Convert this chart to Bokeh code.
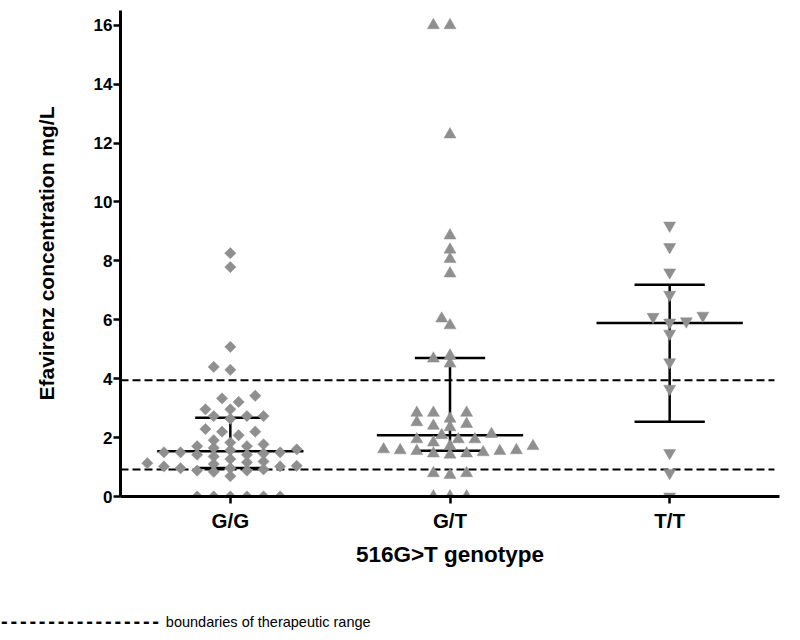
from bokeh.plotting import figure
from bokeh.models import Range1d, FixedTicker, Div, Title
from bokeh.layouts import column
from bokeh.embed import file_html
from bokeh.resources import INLINE
import math

# ---------------- data ----------------
categories = ["G/G", "G/T", "T/T"]
cat_pos = [1, 2, 3]

gg_values = [0, 0, 0, 0, 0, 0,
             0.69, 0.84, 0.88, 0.88, 0.92, 0.96, 0.96, 1.02, 1.02, 1.04,
             1.10, 1.13, 1.16, 1.19, 1.27, 1.36,
             1.42, 1.42, 1.46, 1.50, 1.50, 1.50, 1.57, 1.60, 1.65,
             1.71, 1.71, 1.77, 1.83, 1.91,
             2.08, 2.20, 2.20, 2.29,
             2.64, 2.73, 2.73, 2.73, 2.96, 2.96,
             3.21, 3.33, 3.42,
             4.30, 4.40, 5.08, 7.79, 8.26]

gt_values = [0, 0, 0,
             0.73, 0.79, 0.79,
             1.42, 1.46, 1.46, 1.50, 1.54, 1.54, 1.57, 1.57, 1.60,
             1.71, 1.71, 1.83, 1.94, 1.94, 1.94, 2.08, 2.12,
             2.35, 2.40, 2.46, 2.52, 2.64, 2.84, 2.84, 2.84,
             4.51, 4.68, 4.78, 5.81, 6.04,
             7.57, 8.06, 8.38, 8.86, 12.29, 16.0, 16.0]

tt_values = [0, 0.80, 1.48, 3.66, 4.56, 5.53, 5.91, 5.95, 6.10, 6.14, 6.85, 7.61, 8.47, 9.20]

medians = [1.54, 2.08, 5.89]
q1 = [0.97, 1.55, 2.54]
q3 = [2.67, 4.70, 7.19]

therapeutic_range = [0.92, 3.95]
y_ticks = [0, 2, 4, 6, 8, 10, 12, 14, 16]

x_title = "516G>T genotype"
y_title = "Efavirenz concentration mg/L"
note_dashes = "-----------------"
note_text = "boundaries of therapeutic range"

# ---------------- geometry ----------------
W, H = 784, 606
BL, BR, BT, BB = 120, 5, 10, 110
x_lo, x_hi = 0.5, 3.5
y_lo, y_hi = 0.0, 16.5
px_per_x = (W - BL - BR) / (x_hi - x_lo)
px_per_y = (H - BT - BB) / (y_hi - y_lo)

GREY = "#8f8f8f"
FONT = "Liberation Sans"


def swarm(vals, center, step_px=16.6, dy_px=7.5):
    """Simple beeswarm: place points (ascending) at the smallest free offset."""
    order = sorted(range(len(vals)), key=lambda i: vals[i])
    placed = []
    xs = [0.0] * len(vals)
    half = step_px / 2.0
    for i in order:
        ypx = vals[i] * px_per_y
        chosen = None
        for k in range(0, 40):
            if k == 0:
                cands = [0.0]
            else:
                s = sum(pp[0] for pp in placed)
                cands = [-k * half, k * half] if s > 0 else [k * half, -k * half]
            for c in cands:
                ok = True
                for (px, py) in placed:
                    if ((c - px) / step_px) ** 2 + ((ypx - py) / dy_px) ** 2 < 0.999:
                        ok = False
                        break
                if ok:
                    chosen = c
                    break
            if chosen is not None:
                break
        placed.append((chosen, ypx))
        xs[i] = center + chosen / px_per_x
    return xs


p = figure(width=W, height=H, output_backend="svg", toolbar_location=None,
           x_range=Range1d(x_lo, x_hi), y_range=Range1d(y_lo, y_hi),
           min_border_left=BL, min_border_right=BR, min_border_top=BT, min_border_bottom=BB)
p.outline_line_color = None
p.xgrid.grid_line_color = None
p.ygrid.grid_line_color = None
p.background_fill_color = "white"
p.border_fill_color = "white"

# therapeutic range dashed lines
p.segment(x0=[x_lo] * 2, x1=[x_lo + 2.977] * 2, y0=therapeutic_range, y1=therapeutic_range,
          line_color="black", line_width=2, line_dash="8 4")

# median + IQR
cap_w, med_w = 0.16, 0.333
p.segment(x0=cat_pos, x1=cat_pos, y0=q1, y1=q3, line_color="black", line_width=2.5)
p.segment(x0=[c - med_w for c in cat_pos], x1=[c + med_w for c in cat_pos], y0=medians, y1=medians,
          line_color="black", line_width=2.5)
p.segment(x0=[c - cap_w for c in cat_pos], x1=[c + cap_w for c in cat_pos], y0=q1, y1=q1,
          line_color="black", line_width=2.5)
p.segment(x0=[c - cap_w for c in cat_pos], x1=[c + cap_w for c in cat_pos], y0=q3, y1=q3,
          line_color="black", line_width=2.5)

# points
p.scatter(swarm(gg_values, cat_pos[0]), gg_values, marker="square", size=8, angle=math.pi / 4,
          fill_color=GREY, line_color=GREY, line_width=0.5)
p.scatter(swarm(gt_values, cat_pos[1]), gt_values, marker="triangle", size=12,
          fill_color=GREY, line_color=GREY, line_width=0.5)
p.scatter(swarm(tt_values, cat_pos[2]), tt_values, marker="inverted_triangle", size=12,
          fill_color=GREY, line_color=GREY, line_width=0.5)

# axes
for ax in (p.xaxis[0], p.yaxis[0]):
    ax.axis_line_width = 3
    ax.axis_line_color = "black"
    ax.major_tick_line_width = 2.5
    ax.major_tick_line_color = "black"
    ax.major_tick_out = 7
    ax.major_tick_in = 0
    ax.minor_tick_line_color = None
    ax.major_label_text_font = FONT
    ax.major_label_text_font_style = "bold"
    ax.major_label_text_color = "black"
    ax.axis_label_text_font = FONT
    ax.axis_label_text_font_style = "bold"
    ax.axis_label_text_color = "black"

p.xaxis.ticker = FixedTicker(ticks=cat_pos)
p.xaxis.major_label_overrides = {c: n for c, n in zip(cat_pos, categories)}
p.xaxis.axis_label = x_title
p.xaxis.major_label_text_font_size = "20.5px"
p.xaxis.axis_label_text_font_size = "22.5px"
p.xaxis.major_label_standoff = 5
p.xaxis.axis_label_standoff = 7

p.yaxis.ticker = FixedTicker(ticks=y_ticks)
p.yaxis.major_label_text_font_size = "17px"
p.yaxis.major_label_standoff = 1

# y-axis title as a left-side title (shifted a little upwards, as in the reference)
ytitle = Title(text=y_title, align="center", offset=17, standoff=65,
               text_font=FONT, text_font_style="bold", text_font_size="21px",
               text_color="black")
p.add_layout(ytitle, "left")

note = Div(text=(f'<span style="font-weight:bold;font-size:20px;letter-spacing:2.8px;'
                 f'vertical-align:-1px">{note_dashes}</span> {note_text}'),
           width=W, height=20, margin=(5, 0, 0, 0),
           styles={"font-family": FONT, "font-size": "14.5px", "line-height": "20px",
                   "color": "black", "padding-left": "1px", "white-space": "nowrap"})

layout = column(p, note, spacing=0)
open("out.html", "w").write(file_html(layout, INLINE))
